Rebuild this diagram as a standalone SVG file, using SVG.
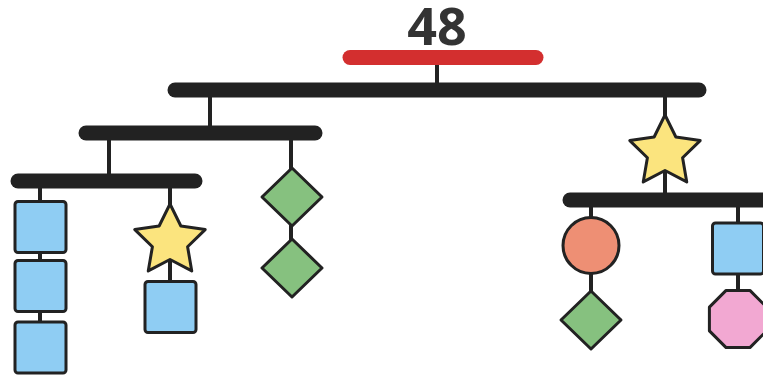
<svg xmlns="http://www.w3.org/2000/svg" width="763" height="381" viewBox="0 0 763 381">
<style>
.bar{stroke:#222;stroke-width:15;stroke-linecap:round;fill:none}
.stem{stroke:#222;stroke-width:4;fill:none}
.sh{stroke:#222;stroke-width:3;stroke-linejoin:round}
.blue{fill:#8fcdf3}.yellow{fill:#fbe47e}.green{fill:#86c17f}.salmon{fill:#ee8f74}.pink{fill:#f2a8d2}
.lbl{font-family:"Open Sans","Liberation Sans",sans-serif;font-weight:bold;font-size:52px;fill:#333;text-anchor:middle}
</style>
<defs>
<path id="star" d="M0,-37 L10.87,-14.97 L35.19,-11.43 L17.59,5.72 L21.75,29.93 L0,18.5 L-21.75,29.93 L-17.59,5.72 L-35.19,-11.43 L-10.87,-14.97 Z"/>
<path id="diamond" d="M0,-29 L30,0 L0,29 L-30,0 Z"/>
<rect id="square" x="-25.5" y="-25.5" width="51" height="51" rx="3"/>
<path id="octagon" d="M11.9,-28.6 L28.6,-11.9 L28.6,11.9 L11.9,28.6 L-11.9,28.6 L-28.6,11.9 L-28.6,-11.9 L-11.9,-28.6 Z"/>
</defs>
<rect width="763" height="381" fill="#fff"/>
<g id="connectors">
<line class="stem" x1="437" y1="57" x2="437" y2="90"/>
<line class="stem" x1="210" y1="90" x2="210" y2="133"/>
<line class="stem" x1="109" y1="133" x2="109" y2="181"/>
<line class="stem" x1="291" y1="133" x2="291" y2="268"/>
<line class="stem" x1="40" y1="181" x2="40" y2="348"/>
<line class="stem" x1="170" y1="181" x2="170" y2="307"/>
<line class="stem" x1="665" y1="90" x2="665" y2="200"/>
<line class="stem" x1="591" y1="200" x2="591" y2="320"/>
<line class="stem" x1="738" y1="200" x2="738" y2="319"/>
</g>
<g id="label"><text class="lbl" x="437" y="45">48</text></g>
<g id="bar-top"><line class="bar" x1="350" y1="57.5" x2="536" y2="57.5" stroke="#d32f2f" style="stroke:#d32f2f"/></g>
<g id="bar-main"><line class="bar" x1="175" y1="90" x2="699" y2="90"/></g>
<g id="bar-left"><line class="bar" x1="86" y1="133" x2="315" y2="133"/></g>
<g id="bar-left2"><line class="bar" x1="18" y1="181" x2="195" y2="181"/></g>
<g id="bar-right"><line class="bar" x1="570" y1="200" x2="780" y2="200"/></g>
<g id="sq1"><use href="#square" class="sh blue" x="40.5" y="227"/></g>
<g id="sq2"><use href="#square" class="sh blue" x="40.5" y="286"/></g>
<g id="sq3"><use href="#square" class="sh blue" x="40.5" y="347.5"/></g>
<g id="star1"><use href="#star" class="sh yellow" x="170" y="241"/></g>
<g id="sq4"><use href="#square" class="sh blue" x="170.5" y="307"/></g>
<g id="dia1"><use href="#diamond" class="sh green" x="292" y="197"/></g>
<g id="dia2"><use href="#diamond" class="sh green" x="292" y="268"/></g>
<g id="star2"><use href="#star" class="sh yellow" x="665" y="152"/></g>
<g id="circle1"><circle class="sh salmon" cx="591" cy="245.5" r="28"/></g>
<g id="dia3"><use href="#diamond" class="sh green" x="591" y="320"/></g>
<g id="sq5"><use href="#square" class="sh blue" x="738" y="248.5"/></g>
<g id="oct1"><use href="#octagon" class="sh pink" x="738" y="319"/></g>
</svg>
